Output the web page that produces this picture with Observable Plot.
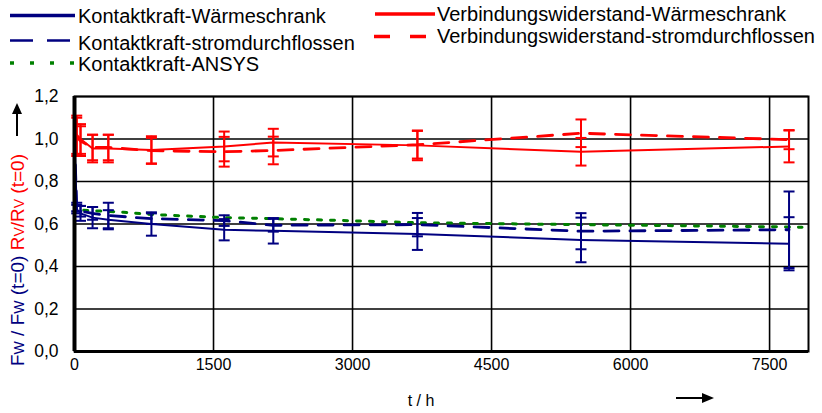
<!DOCTYPE html>
<html><head><meta charset="utf-8">
<script src="https://cdn.jsdelivr.net/npm/d3@7"></script>
<script src="https://cdn.jsdelivr.net/npm/@observablehq/plot@0.6"></script>
<style>body{margin:0;background:#fff}</style>
</head><body><div id="chart"></div>
<script>
// ---- data ----
const times = [0, 24, 65, 195, 365, 830, 1615, 2145, 3700, 5465, 7710];
const kkWaerme    = [1.0, 0.67, 0.65, 0.63, 0.62, 0.60, 0.573, 0.568, 0.553, 0.525, 0.507];
const kkWaermeErr = [0, 0.02, 0.035, 0.05, 0.045, 0.055, 0.05, 0.06, 0.075, 0.105, 0.125];
const kkStrom     = [1.0, 0.68, 0.66, 0.65, 0.64, 0.625, 0.616, 0.594, 0.597, 0.566, 0.573];
const kkStromErr  = [0, 0.02, 0.025, 0.03, 0.06, 0.025, 0.025, 0.03, 0.055, 0.085, 0.18];
const rvWaerme    = [1.0, 1.02, 1.0, 0.955, 0.955, 0.948, 0.965, 0.983, 0.97, 0.94, 0.965];
const rvWaermeErr = [0, 0.09, 0.07, 0.065, 0.065, 0.065, 0.07, 0.065, 0.07, 0.065, 0.075];
const rvStrom     = [1.0, 1.01, 0.99, 0.96, 0.96, 0.945, 0.94, 0.946, 0.973, 1.027, 0.997];
const rvStromErr  = [0, 0.09, 0.07, 0.06, 0.06, 0.06, 0.07, 0.065, 0.065, 0.065, 0.045];
const ansysTimes  = [100, 530, 830, 1615, 2145, 3000, 3700, 5465, 7710, 7850];
const ansysValues = [0.665, 0.655, 0.645, 0.63, 0.625, 0.615, 0.606, 0.597, 0.586, 0.585];
const xTicks = [0, 1500, 3000, 4500, 6000, 7500];
const yTicks = [0, 0.2, 0.4, 0.6, 0.8, 1.0, 1.2];
const seriesNames = ["Kontaktkraft-Wärmeschrank", "Kontaktkraft-stromdurchflossen", "Kontaktkraft-ANSYS",
                     "Verbindungswiderstand-Wärmeschrank", "Verbindungswiderstand-stromdurchflossen"];

const NAVY = "#000080", RED = "#ff0000", GREEN = "#008000";
const mk = (vals, errs) => times.map((t, i) => ({t, v: vals[i], e: errs[i]}));
const sKW = mk(kkWaerme, kkWaermeErr), sKS = mk(kkStrom, kkStromErr);
const sRW = mk(rvWaerme, rvWaermeErr), sRS = mk(rvStrom, rvStromErr);
const sAN = ansysTimes.map((t, i) => ({t, v: ansysValues[i]}));

const cap = {draw(ctx, size) { const w = Math.sqrt(size / Math.PI); ctx.moveTo(-w, 0); ctx.lineTo(w, 0); }};
function errMarks(data, color) {
  const d = data.filter(r => r.e > 0);
  return [
    Plot.ruleX(d, {x: "t", y1: r => r.v - r.e, y2: r => r.v + r.e, stroke: color, strokeWidth: 2}),
    Plot.dot(d, {x: "t", y: r => r.v + r.e, symbol: cap, r: 5.5, stroke: color, strokeWidth: 2}),
    Plot.dot(d, {x: "t", y: r => r.v - r.e, symbol: cap, r: 5.5, stroke: color, strokeWidth: 2})
  ];
}
const fmtY = d => d3.format(".1f")(d).replace(".", ",");

const chart = Plot.plot({
  width: 822, height: 413,
  marginTop: 96, marginBottom: 62, marginLeft: 74, marginRight: 14,
  style: {fontFamily: "'Liberation Sans', Arial, sans-serif", fontSize: "16px", background: "white", color: "black"},
  x: {domain: [0, 7920]},
  y: {domain: [0, 1.2]},
  marks: [
    Plot.gridX(xTicks.slice(1), {stroke: "black", strokeOpacity: 1, strokeWidth: 1.6}),
    Plot.gridY(yTicks.slice(1), {stroke: "black", strokeOpacity: 1, strokeWidth: 1.6}),
    Plot.axisX(xTicks, {tickSize: 0, tickPadding: 7, tickFormat: d => String(d), fontSize: 16, label: null}),
    Plot.axisY(yTicks, {tickSize: 0, tickPadding: 16, tickFormat: fmtY, fontSize: 17.5, label: null}),
    Plot.line(sAN, {x: "t", y: "v", stroke: GREEN, strokeWidth: 3, strokeDasharray: "4,9"}),
    Plot.line(sKW, {x: "t", y: "v", stroke: NAVY, strokeWidth: 2}),
    Plot.line(sKS, {x: "t", y: "v", stroke: NAVY, strokeWidth: 2.8, strokeDasharray: "15,11"}),
    Plot.line(sRW, {x: "t", y: "v", stroke: RED, strokeWidth: 2}),
    Plot.line(sRS, {x: "t", y: "v", stroke: RED, strokeWidth: 2.8, strokeDasharray: "15,11"}),
    ...errMarks(sKW, NAVY), ...errMarks(sKS, NAVY),
    ...errMarks(sRW, RED), ...errMarks(sRS, RED),
    Plot.frame({stroke: "black", strokeWidth: 2}),
    Plot.ruleX([0], {stroke: "black", strokeWidth: 4}),
    Plot.ruleY([0], {stroke: "black", strokeWidth: 3})
  ]
});
document.getElementById("chart").appendChild(chart);

// ---- legend & axis titles ----
const svg = d3.select(chart);
const FONT = "'Liberation Sans', Arial, sans-serif";
const legendItems = [
  {name: seriesNames[0], color: NAVY, w: 3.5, dash: null, x1: 10, x2: 75, y: 15.5, tx: 78, ty: 16},
  {name: seriesNames[1], color: NAVY, w: 2.5, dash: "23,14", x1: 10, x2: 70, y: 40.5, tx: 78, ty: 42.5},
  {name: seriesNames[2], color: GREEN, w: 3.5, dash: "4,16", x1: 10, x2: 74, y: 63, tx: 78, ty: 64},
  {name: seriesNames[3], color: RED, w: 3.5, dash: null, x1: 375, x2: 435, y: 14, tx: 437, ty: 14},
  {name: seriesNames[4], color: RED, w: 3.5, dash: "16,20", x1: 374, x2: 430, y: 36.5, tx: 437, ty: 36}
];
const lg = svg.append("g").attr("text-anchor", "start");
legendItems.forEach(it => {
  lg.append("line").attr("x1", it.x1).attr("x2", it.x2).attr("y1", it.y).attr("y2", it.y)
    .attr("stroke", it.color).attr("stroke-width", it.w).attr("stroke-dasharray", it.dash);
  lg.append("text").attr("x", it.tx).attr("y", it.ty).attr("dy", "0.35em").attr("text-anchor", "start")
    .attr("font-family", FONT).attr("font-size", 20).attr("fill", "black").text(it.name);
});

// y title
const yt = svg.append("text").attr("transform", "translate(24,366) rotate(-90)")
  .attr("text-anchor", "start").attr("font-family", FONT).attr("font-size", 19);
const part = (txt, color, small) => yt.append("tspan").attr("fill", color)
  .attr("font-size", small ? 14 : 19).text(txt);
part("F", NAVY); part("W", NAVY, true); part(" / F", NAVY); part("W", NAVY, true); part(" (t=0) ", NAVY);
part("R", RED); part("V", RED, true); part("/R", RED); part("V", RED, true); part(" (t=0)", RED);
svg.append("line").attr("x1", 17).attr("x2", 17).attr("y1", 136).attr("y2", 110)
  .attr("stroke", "black").attr("stroke-width", 2);
svg.append("path").attr("d", "M17,103 L12,114 L22,114 Z").attr("fill", "black");

// x title
svg.append("text").attr("x", 421).attr("y", 406).attr("text-anchor", "middle")
  .attr("font-family", FONT).attr("font-size", 16).text("t / h");
svg.append("line").attr("x1", 676).attr("x2", 704).attr("y1", 398).attr("y2", 398)
  .attr("stroke", "black").attr("stroke-width", 2);
svg.append("path").attr("d", "M714,398 L702,393 L702,403 Z").attr("fill", "black");
</script></body></html>
